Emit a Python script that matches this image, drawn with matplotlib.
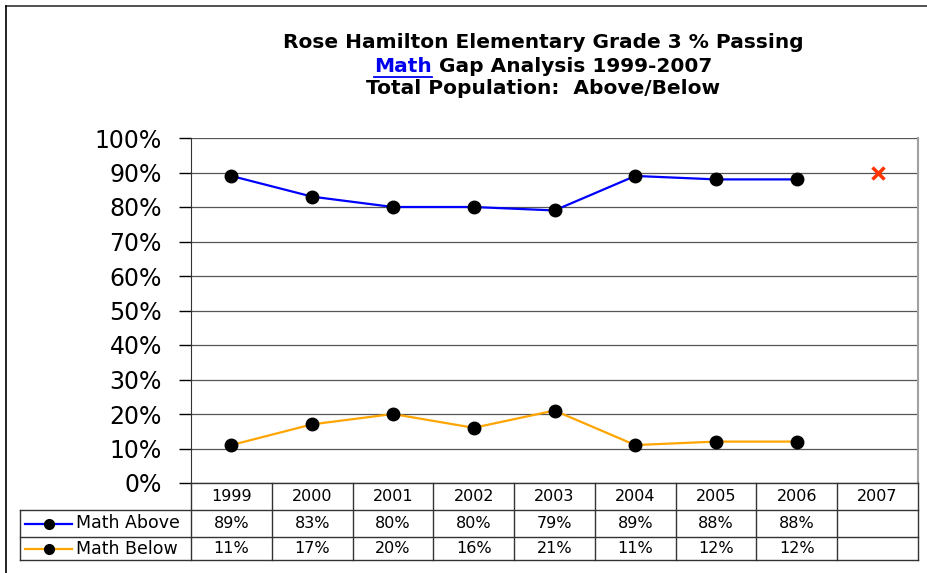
import matplotlib
matplotlib.use("Agg")
import matplotlib.pyplot as plt
from matplotlib.lines import Line2D

# ── Data ──────────────────────────────────────────────────────────────────────
years       = ["1999", "2000", "2001", "2002", "2003", "2004", "2005", "2006", "2007"]
math_above  = [89, 83, 80, 80, 79, 89, 88, 88]
math_below  = [11, 17, 20, 16, 21, 11, 12, 12]
target_year = "2007"
target_val  = 90
yticks      = [0, 10, 20, 30, 40, 50, 60, 70, 80, 90, 100]

W, H = 927, 573
fig = plt.figure(figsize=(W / 100, H / 100), dpi=100)

def fx(px):
    return px / W

def fy(py):
    return 1 - py / H

# plot area in pixel coords
L, R, T, B = 191, 918, 138, 483
ax = fig.add_axes([fx(L), fy(B), fx(R - L), (B - T) / H])

n = len(years)
xs = list(range(n))
ax.set_xlim(-0.5, n - 0.5)
ax.set_ylim(0, 100)

ax.plot(xs[:len(math_above)], math_above, color="#0000FF", lw=1.6,
        marker="o", ms=9, mfc="black", mec="black", zorder=3)
ax.plot(xs[:len(math_below)], math_below, color="#FFA500", lw=1.6,
        marker="o", ms=9, mfc="black", mec="black", zorder=3)
ax.plot([years.index(target_year)], [target_val], linestyle="none",
        marker="x", ms=8, mew=2.5, color="#FF3300", zorder=4)

ax.set_yticks(yticks)
ax.set_yticklabels([f"{v}%" for v in yticks], fontsize=17)
ax.tick_params(axis="y", direction="out", length=9, width=1, pad=12)
ax.set_xticks([])
ax.grid(axis="y", color="#555555", lw=0.9)
ax.set_axisbelow(True)
for side in ["top", "bottom"]:
    ax.spines[side].set_visible(False)
ax.spines["left"].set_color("#333333")
ax.spines["right"].set_color("#A0A0A0")
ax.spines["right"].set_linewidth(1.5)

# ── Data table below the plot ─────────────────────────────────────────────────
row_y = [483, 510, 537, 560]
col_w = (R - L) / n
tbl_left = 20
line_kw = dict(color="#333333", lw=1, transform=fig.transFigure)

fig.add_artist(Line2D([fx(L), fx(R)], [fy(row_y[0])] * 2, **line_kw))
for y in row_y[1:]:
    fig.add_artist(Line2D([fx(tbl_left), fx(R)], [fy(y)] * 2, **line_kw))
for i in range(n + 1):
    x = L + i * col_w
    fig.add_artist(Line2D([fx(x)] * 2, [fy(row_y[0]), fy(row_y[-1])], **line_kw))
fig.add_artist(Line2D([fx(tbl_left)] * 2, [fy(row_y[1]), fy(row_y[-1])], **line_kw))

txt_kw = dict(ha="center", va="center", fontsize=11.5, color="black")
for i, yr in enumerate(years):
    cx = L + (i + 0.5) * col_w
    fig.text(fx(cx), fy((row_y[0] + row_y[1]) / 2), yr, **txt_kw)
    if i < len(math_above):
        fig.text(fx(cx), fy((row_y[1] + row_y[2]) / 2), f"{math_above[i]}%", **txt_kw)
    if i < len(math_below):
        fig.text(fx(cx), fy((row_y[2] + row_y[3]) / 2), f"{math_below[i]}%", **txt_kw)

series = [("Math Above", "#0000FF"), ("Math Below", "#FFA500")]
for k, (name, col) in enumerate(series):
    cy = (row_y[k + 1] + row_y[k + 2]) / 2
    fig.add_artist(Line2D([fx(25), fx(72)], [fy(cy)] * 2, color=col, lw=1.6,
                          transform=fig.transFigure))
    fig.add_artist(Line2D([fx(48.5)], [fy(cy)], marker="o", ms=7, mfc="black",
                          mec="black", transform=fig.transFigure))
    fig.text(fx(76), fy(cy), name, ha="left", va="center", fontsize=12.5)

# ── Title ─────────────────────────────────────────────────────────────────────
tkw = dict(va="center", fontsize=14.5, fontweight="bold")
fig.text(fx(543), fy(43), "Rose Hamilton Elementary Grade 3 % Passing", ha="center", **tkw)
fig.text(fx(543), fy(89), "Total Population:  Above/Below", ha="center", **tkw)

# second line: blue underlined "Math" + rest, centred together
renderer = fig.canvas.get_renderer()
t_math = fig.text(0, fy(66), "Math", color="#0000EE", ha="left", **tkw)
t_rest = fig.text(0, fy(66), " Gap Analysis 1999-2007", ha="left", **tkw)
w_math = t_math.get_window_extent(renderer).width
w_rest = t_rest.get_window_extent(renderer).width
x0 = 543 - (w_math + w_rest) / 2
t_math.set_x(fx(x0))
t_rest.set_x(fx(x0 + w_math))
fig.add_artist(Line2D([fx(x0), fx(x0 + w_math)], [fy(77)] * 2, color="#0000EE",
                      lw=1.3, transform=fig.transFigure))

# outer frame lines (top and left)
fig.add_artist(Line2D([fx(6), 1], [fy(6)] * 2, color="#333333", lw=1.2,
                      transform=fig.transFigure))
fig.add_artist(Line2D([fx(6)] * 2, [fy(6), 0], color="black", lw=1.2,
                      transform=fig.transFigure))

fig.savefig("out.png", dpi=100)
